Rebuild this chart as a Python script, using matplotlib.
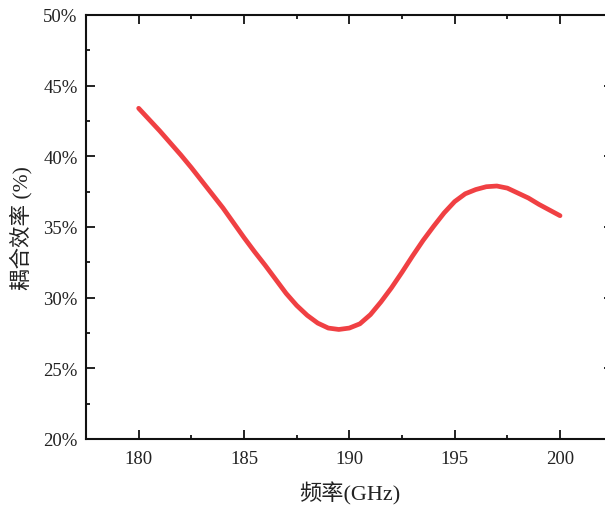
import matplotlib
matplotlib.use("Agg")
import matplotlib.pyplot as plt
from matplotlib.ticker import MultipleLocator, FuncFormatter

plt.rcParams['font.family'] = ['Liberation Serif', 'Noto Sans CJK SC', 'DejaVu Sans']

# frequency (GHz) and coupling efficiency (%)
freq = [180, 180.5, 181, 181.5, 182, 182.5, 183, 183.5, 184, 184.5, 185, 185.5,
        186, 186.5, 187, 187.5, 188, 188.5, 189, 189.5, 190, 190.5, 191, 191.5,
        192, 192.5, 193, 193.5, 194, 194.5, 195, 195.5, 196, 196.5, 197, 197.5,
        198, 198.5, 199, 199.5, 200]
eff = [43.4, 42.6, 41.8, 40.95, 40.1, 39.2, 38.25, 37.3, 36.35, 35.3, 34.25, 33.25,
       32.3, 31.3, 30.3, 29.45, 28.75, 28.2, 27.85, 27.75, 27.85, 28.15, 28.8, 29.7,
       30.7, 31.8, 32.95, 34.05, 35.05, 36.0, 36.8, 37.35, 37.65, 37.85, 37.9, 37.75,
       37.4, 37.05, 36.6, 36.2, 35.8]

xlabel = '频率(GHz)'
ylabel = '耦合效率 (%)'

fig = plt.figure(figsize=(6.05, 5.1), dpi=100)
ax = fig.add_axes([86/605, 1 - 440/510, (612.7 - 86)/605, (440 - 16)/510])

ax.plot(freq, eff, color='#f04043', lw=3.4, solid_capstyle='round',
        solid_joinstyle='round')

ax.set_xlim(177.5, 202.5)
ax.set_ylim(20, 50)
ax.xaxis.set_major_locator(MultipleLocator(5))
ax.xaxis.set_minor_locator(MultipleLocator(2.5))
ax.yaxis.set_major_locator(MultipleLocator(5))
ax.yaxis.set_minor_locator(MultipleLocator(2.5))
ax.yaxis.set_major_formatter(FuncFormatter(lambda v, p: f'{v:.0f}%'))

ax.tick_params(which='both', direction='in', top=True, right=True,
               width=1.4, labelsize=13.5, colors='#222222')
ax.tick_params(which='major', length=6.5)
ax.tick_params(which='minor', length=3.2)
ax.tick_params(axis='x', pad=8)
ax.tick_params(axis='y', pad=6)
for s in ax.spines.values():
    s.set_linewidth(1.5)
    s.set_color('#111111')

ax.set_xlabel(xlabel, fontsize=16, labelpad=10, color='#222222')
ax.set_ylabel(ylabel, fontsize=15.5, labelpad=8, color='#222222')

fig.savefig('out.png', dpi=100)
